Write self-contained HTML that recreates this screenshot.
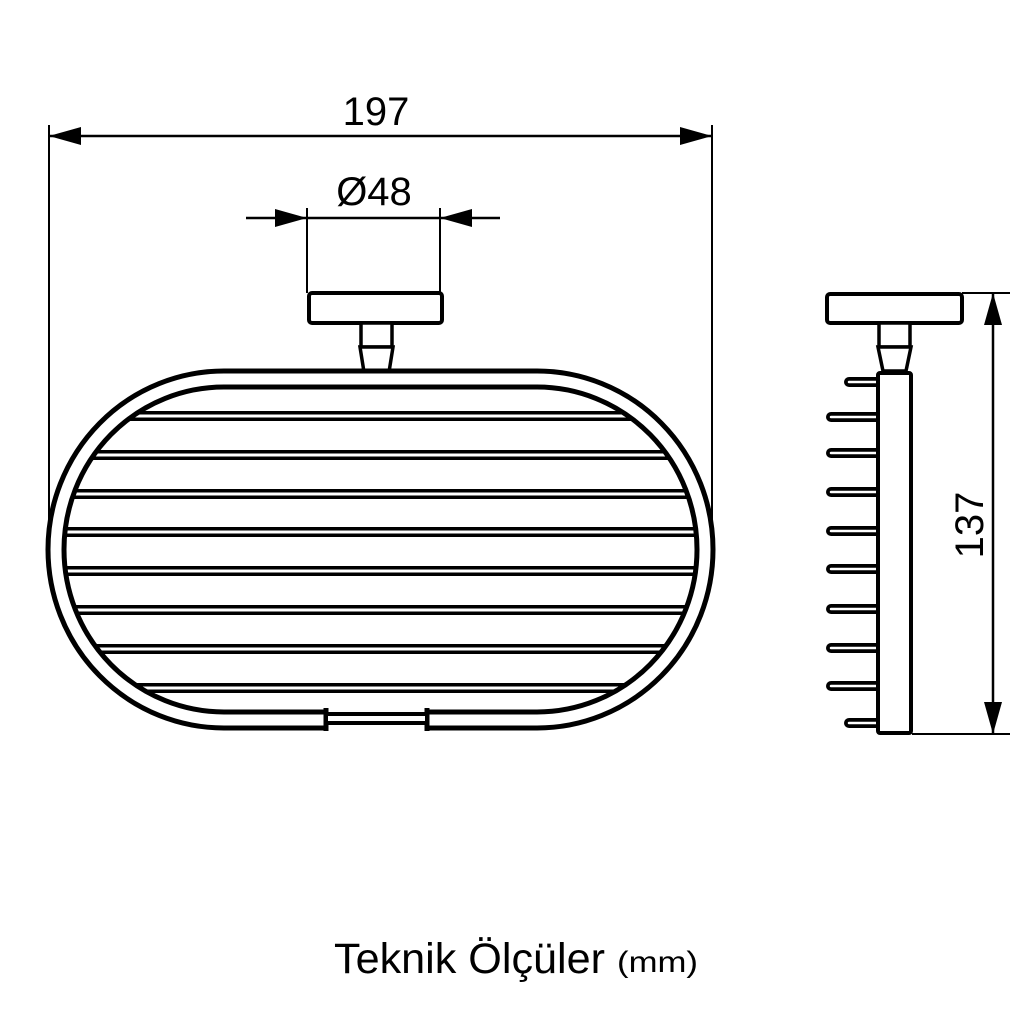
<!DOCTYPE html>
<html><head><meta charset="utf-8"><style>
html,body{margin:0;padding:0;background:#fff;width:1024px;height:1024px;overflow:hidden}
svg{display:block}
text{font-family:"Liberation Sans","DejaVu Sans",sans-serif;fill:#000}
</style></head><body>
<svg width="1024" height="1024" viewBox="0 0 1024 1024" xmlns="http://www.w3.org/2000/svg">
<defs>
<clipPath id="inner"><rect x="63" y="386" width="635" height="327" rx="160" ry="163"/></clipPath>
</defs>
<rect width="1024" height="1024" fill="#fff"/>
<line x1="49" y1="125" x2="49" y2="520" stroke="#000" stroke-width="2"/>
<line x1="712" y1="125" x2="712" y2="520" stroke="#000" stroke-width="2"/>
<line x1="49" y1="136" x2="712" y2="136" stroke="#000" stroke-width="2.5"/>
<polygon points="49,136 81,127 81,145" fill="#000"/>
<polygon points="712,136 680,127 680,145" fill="#000"/>
<text x="376" y="125" font-size="40" text-anchor="middle">197</text>
<line x1="307" y1="208" x2="307" y2="293" stroke="#000" stroke-width="2"/>
<line x1="440" y1="208" x2="440" y2="293" stroke="#000" stroke-width="2"/>
<line x1="246" y1="218" x2="500" y2="218" stroke="#000" stroke-width="2.5"/>
<polygon points="307,218 275,209 275,227" fill="#000"/>
<polygon points="440,218 472,209 472,227" fill="#000"/>
<text x="374" y="205" font-size="40" text-anchor="middle">Ø48</text>
<rect x="309" y="293" width="133" height="30" rx="3" fill="#fff" stroke="#000" stroke-width="4"/>
<rect x="361" y="323" width="31" height="24" fill="#fff" stroke="#000" stroke-width="3.5"/>
<polygon points="360,347 393,347 389,372 364,372" fill="#fff" stroke="#000" stroke-width="3.5"/>
<g clip-path="url(#inner)">
<g stroke="#000" stroke-width="10" fill="none">
<line x1="40" y1="416" x2="720" y2="416"/><line x1="40" y1="455" x2="720" y2="455"/>
<line x1="40" y1="494" x2="720" y2="494"/><line x1="40" y1="532" x2="720" y2="532"/>
<line x1="40" y1="571" x2="720" y2="571"/><line x1="40" y1="610" x2="720" y2="610"/>
<line x1="40" y1="649" x2="720" y2="649"/><line x1="40" y1="688" x2="720" y2="688"/>
</g>
<g stroke="#fff" stroke-width="3" fill="none">
<line x1="40" y1="416" x2="720" y2="416"/><line x1="40" y1="455" x2="720" y2="455"/>
<line x1="40" y1="494" x2="720" y2="494"/><line x1="40" y1="532" x2="720" y2="532"/>
<line x1="40" y1="571" x2="720" y2="571"/><line x1="40" y1="610" x2="720" y2="610"/>
<line x1="40" y1="649" x2="720" y2="649"/><line x1="40" y1="688" x2="720" y2="688"/>
</g>
</g>
<rect x="56" y="379" width="649" height="341" rx="168" ry="171" fill="none" stroke="#000" stroke-width="21"/>
<rect x="56" y="379" width="649" height="341" rx="168" ry="171" fill="none" stroke="#fff" stroke-width="11"/>
<rect x="326" y="706" width="101" height="26" fill="#fff"/>
<line x1="326" y1="708" x2="326" y2="731" stroke="#000" stroke-width="5"/>
<line x1="427" y1="708" x2="427" y2="731" stroke="#000" stroke-width="5"/>
<rect x="326" y="714" width="101" height="9" fill="#fff" stroke="#000" stroke-width="4"/>
<rect x="827" y="294" width="135" height="29" rx="3" fill="#fff" stroke="#000" stroke-width="4"/>
<rect x="879" y="323" width="31" height="24" fill="#fff" stroke="#000" stroke-width="3.5"/>
<polygon points="878,347 911,347 906,371 883,371" fill="#fff" stroke="#000" stroke-width="3.5"/>
<g stroke="#000" stroke-width="10" stroke-linecap="round" fill="none">
<line x1="849" y1="382" x2="880" y2="382"/>
<line x1="831" y1="417" x2="880" y2="417"/>
<line x1="831" y1="453" x2="880" y2="453"/>
<line x1="831" y1="492" x2="880" y2="492"/>
<line x1="831" y1="531" x2="880" y2="531"/>
<line x1="831" y1="569" x2="880" y2="569"/>
<line x1="831" y1="609" x2="880" y2="609"/>
<line x1="831" y1="648" x2="880" y2="648"/>
<line x1="831" y1="686" x2="880" y2="686"/>
<line x1="849" y1="723" x2="880" y2="723"/>
</g>
<g stroke="#fff" stroke-width="2.5" stroke-linecap="round" fill="none">
<line x1="849" y1="382" x2="880" y2="382"/>
<line x1="831" y1="417" x2="880" y2="417"/>
<line x1="831" y1="453" x2="880" y2="453"/>
<line x1="831" y1="492" x2="880" y2="492"/>
<line x1="831" y1="531" x2="880" y2="531"/>
<line x1="831" y1="569" x2="880" y2="569"/>
<line x1="831" y1="609" x2="880" y2="609"/>
<line x1="831" y1="648" x2="880" y2="648"/>
<line x1="831" y1="686" x2="880" y2="686"/>
<line x1="849" y1="723" x2="880" y2="723"/>
</g>
<rect x="878" y="373" width="33" height="360" rx="2" fill="#fff" stroke="#000" stroke-width="4"/>
<line x1="962" y1="293" x2="1010" y2="293" stroke="#000" stroke-width="2"/>
<line x1="912" y1="734" x2="1010" y2="734" stroke="#000" stroke-width="2"/>
<line x1="993" y1="293" x2="993" y2="734" stroke="#000" stroke-width="2.5"/>
<polygon points="993,293 984,325 1002,325" fill="#000"/>
<polygon points="993,734 984,702 1002,702" fill="#000"/>
<text transform="translate(983,525) rotate(-90)" font-size="40" text-anchor="middle">137</text>
<text x="334" y="973" font-size="43" textLength="271" lengthAdjust="spacingAndGlyphs">Teknik Ölçüler</text>
<text x="617" y="972" font-size="30" textLength="81" lengthAdjust="spacingAndGlyphs">(mm)</text>
</svg>
</body></html>
